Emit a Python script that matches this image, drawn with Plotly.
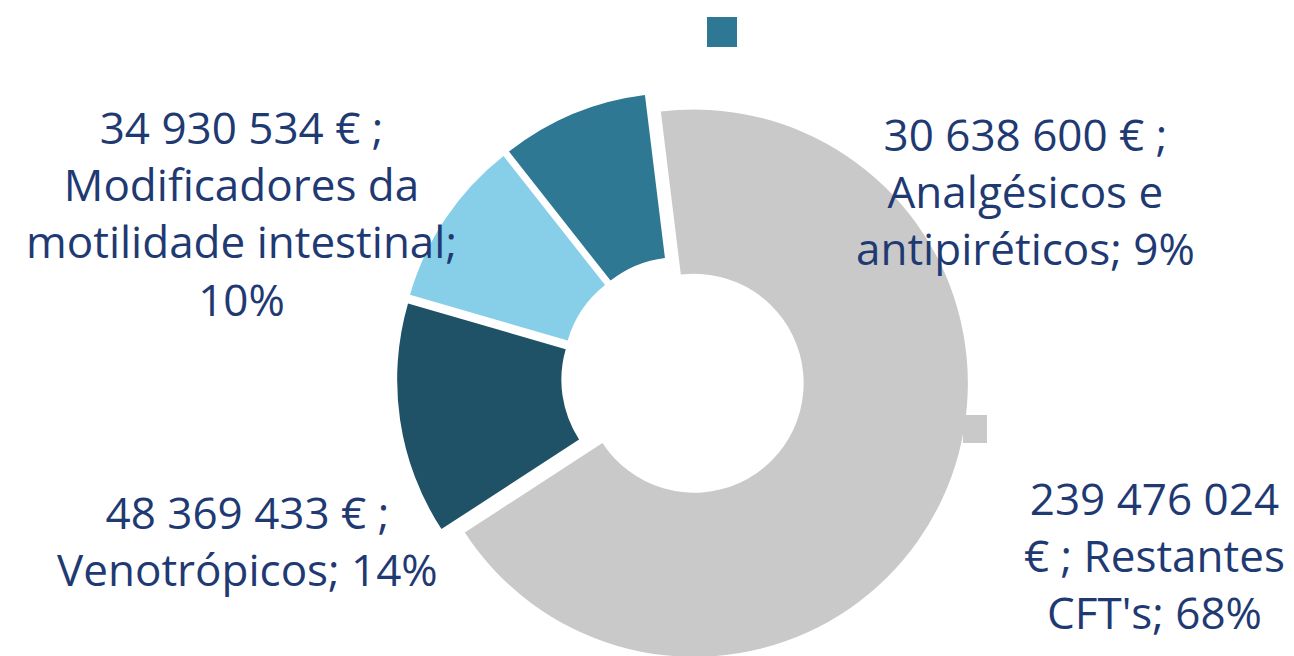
import plotly.graph_objects as go

# data
labels = ["Restantes CFT's", "Venotrópicos", "Modificadores da motilidade intestinal",
          "Analgésicos e antipiréticos"]
values = [239476024, 48369433, 34930534, 30638600]
colors = ["#C9C9C9", "#1F5267", "#87CEE8", "#2E7894"]

# how each label is broken into lines in the chart ({v} = value, {p} = percent)
label_layout = [
    "{v}<br>€ ; Restantes<br>CFT's; {p}%",
    "{v} € ;<br>Venotrópicos; {p}%",
    "{v} € ;<br>Modificadores da<br>motilidade intestinal;<br>{p}%",
    "{v} € ;<br>Analgésicos e<br>antipiréticos; {p}%",
]
# label block centres on screen, pixels (x, y)
label_pos = [(1154, 555), (247, 540), (241, 213), (1025, 191)]

W, H = 1294, 656
OFF = 8  # page body margin shifts the figure by this much
total = sum(values)


def fmt(v):
    return f"{v:,}".replace(",", " ")


def px(x):
    return (x - OFF) / W


def py(y):
    return 1 - (y - OFF) / H


fig = go.Figure()
fig.add_trace(go.Pie(
    labels=labels, values=values, sort=False, direction="clockwise", rotation=-7,
    hole=0.4, pull=[0.045] * 4, textinfo="none", hoverinfo="label+value+percent",
    marker=dict(colors=colors, line=dict(width=0)),
    domain=dict(x=[0.2, 0.8433], y=[0, 1 - 84 / H]),
    showlegend=False,
))

for i, tpl in enumerate(label_layout):
    p = round(values[i] / total * 100)
    txt = tpl.format(v=fmt(values[i]), p=p)
    x, y = label_pos[i]
    fig.add_annotation(text=txt, x=px(x), y=py(y), xref="paper", yref="paper",
                       xanchor="center", yanchor="middle", align="center", showarrow=False,
                       font=dict(family="Open Sans", size=44, color="#1F3A73"))

# legend marker (its text is cut off in the original) and the small leader stub
fig.add_shape(type="rect", xref="paper", yref="paper", x0=px(707), x1=px(737),
              y0=py(47), y1=py(17), fillcolor=colors[3], line_width=0)
fig.add_shape(type="rect", xref="paper", yref="paper", x0=px(963), x1=px(987),
              y0=py(443), y1=py(415), fillcolor=colors[0], line_width=0)

fig.update_layout(width=W, height=H, margin=dict(l=0, r=0, t=0, b=0),
                  paper_bgcolor="white", plot_bgcolor="white")
fig.write_html("out.html")
